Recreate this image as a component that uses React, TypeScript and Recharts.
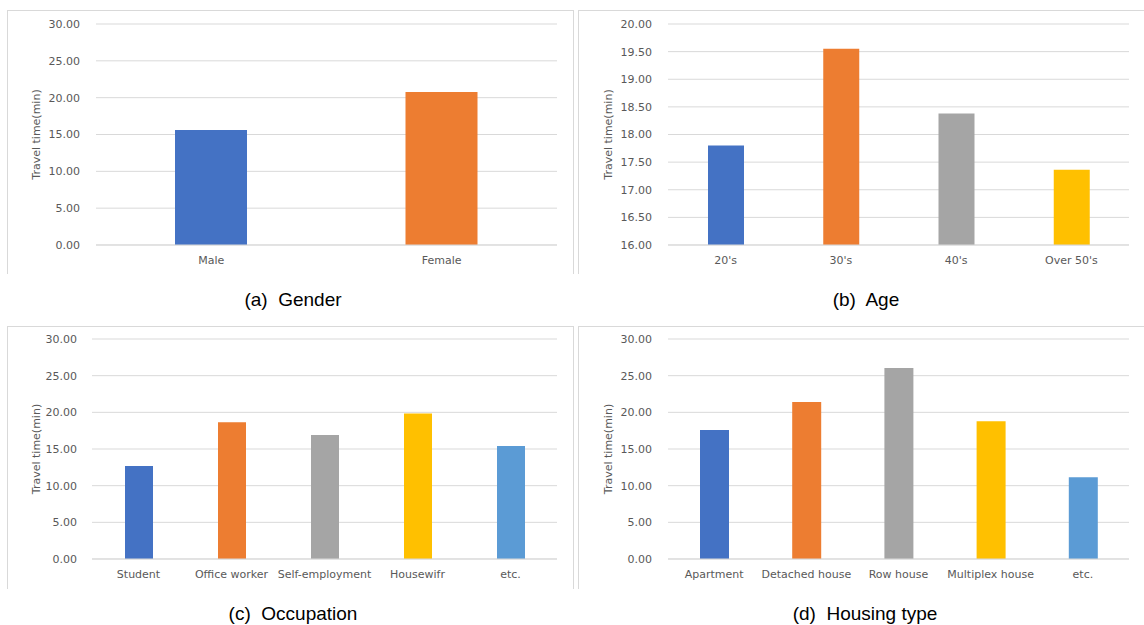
import { BarChart, Bar, XAxis, YAxis, CartesianGrid, Cell } from 'recharts';

const genderCategories = ['Male', 'Female'];
const genderValues = [15.62, 20.76];

const ageCategories = ["20's", "30's", "40's", "Over 50's"];
const ageValues = [17.8, 19.55, 18.38, 17.36];

const occupationCategories = ['Student', 'Office worker', 'Self-employment', 'Housewifr', 'etc.'];
const occupationValues = [12.68, 18.65, 16.9, 19.85, 15.4];

const housingCategories = ['Apartment', 'Detached house', 'Row house', 'Multiplex house', 'etc.'];
const housingValues = [17.6, 21.4, 26.05, 18.8, 11.15];

const ticks30 = [0, 5, 10, 15, 20, 25, 30];
const ticksAge = [16, 16.5, 17, 17.5, 18, 18.5, 19, 19.5, 20];

const palette = ['#4472C4', '#ED7D31', '#A5A5A5', '#FFC000', '#5B9BD5'];

const AXIS_FONT = '"DejaVu Sans", sans-serif';
const TEXT_GRAY = '#595959';
const GRID = '#d9d9d9';

interface PanelProps {
  categories: string[];
  values: number[];
  domain: [number, number];
  ticks: number[];
  left: number;
  top: number;
  width: number;
  height: number;
  marginTop: number;
  marginRight: number;
  yAxisWidth: number;
  xAxisHeight: number;
  barSize: number;
  yTickMargin: number;
  titleX: number;
  rightBorder: boolean;
}

function Panel(p: PanelProps) {
  const data = p.categories.map((name, i) => ({ name, value: p.values[i] }));
  return (
    <div
      style={{
        position: 'absolute',
        left: p.left,
        top: p.top,
        width: p.width,
        height: p.height,
        boxSizing: 'border-box',
        borderLeft: `1px solid ${GRID}`,
        borderTop: `1px solid ${GRID}`,
        borderRight: p.rightBorder ? `1px solid ${GRID}` : 'none',
      }}
    >
      <div style={{ position: 'absolute', left: -1, top: -1 }}>
        <BarChart
          width={p.width}
          height={p.height}
          data={data}
          margin={{ top: p.marginTop, right: p.marginRight, bottom: 0, left: 0 }}
        >
          <CartesianGrid vertical={false} stroke={GRID} />
          <XAxis
            dataKey="name"
            interval={0}
            height={p.xAxisHeight}
            axisLine={{ stroke: GRID }}
            tickLine={false}
            tickSize={0}
            tickMargin={11}
            tick={{ fill: TEXT_GRAY, fontSize: 11, fontFamily: AXIS_FONT }}
          />
          <YAxis
            width={p.yAxisWidth}
            domain={p.domain}
            ticks={p.ticks}
            allowDataOverflow
            axisLine={false}
            tickLine={false}
            tickSize={0}
            tickMargin={p.yTickMargin}
            tickFormatter={(v: number) => v.toFixed(2)}
            tick={{ fill: TEXT_GRAY, fontSize: 11, fontFamily: AXIS_FONT }}
            label={{
              content: (lp: any) => {
                const vb = lp.viewBox || { x: 0, y: 0, height: 0 };
                const cx = vb.x + p.titleX;
                const cy = vb.y + vb.height / 2;
                return (
                  <text
                    x={cx}
                    y={cy}
                    transform={`rotate(-90, ${cx}, ${cy})`}
                    textAnchor="middle"
                    dominantBaseline="central"
                    fill={TEXT_GRAY}
                    fontSize={11}
                    fontFamily={AXIS_FONT}
                  >
                    Travel time(min)
                  </text>
                );
              },
            }}
          />
          <Bar dataKey="value" barSize={p.barSize} isAnimationActive={false}>
            {data.map((d, i) => (
              <Cell key={d.name} fill={palette[i % palette.length]} />
            ))}
          </Bar>
        </BarChart>
      </div>
    </div>
  );
}

function Caption({ text, cx, top }: { text: string; cx: number; top: number }) {
  return (
    <div
      style={{
        position: 'absolute',
        left: cx - 150,
        top,
        width: 300,
        textAlign: 'center',
        fontFamily: '"Liberation Sans", Arial, sans-serif',
        fontSize: 19,
        lineHeight: '22px',
        color: '#000',
        whiteSpace: 'pre',
      }}
    >
      {text}
    </div>
  );
}

export default function App() {
  return (
    <div
      style={{
        position: 'absolute',
        left: 0,
        top: 0,
        width: 1144,
        height: 625,
        background: '#fff',
        overflow: 'hidden',
      }}
    >
      <Panel
        categories={genderCategories}
        values={genderValues}
        domain={[0, 30]}
        ticks={ticks30}
        left={7}
        top={10}
        width={567}
        height={264}
        marginTop={14}
        marginRight={17}
        yAxisWidth={89}
        xAxisHeight={29}
        barSize={72}
        yTickMargin={16}
        titleX={29}
        rightBorder
      />
      <Panel
        categories={ageCategories}
        values={ageValues}
        domain={[16, 20]}
        ticks={ticksAge}
        left={578}
        top={10}
        width={570}
        height={264}
        marginTop={14}
        marginRight={19}
        yAxisWidth={90}
        xAxisHeight={29}
        barSize={36}
        yTickMargin={16}
        titleX={30}
        rightBorder={false}
      />
      <Panel
        categories={occupationCategories}
        values={occupationValues}
        domain={[0, 30]}
        ticks={ticks30}
        left={7}
        top={326}
        width={567}
        height={263}
        marginTop={13}
        marginRight={17}
        yAxisWidth={85}
        xAxisHeight={30}
        barSize={28}
        yTickMargin={15}
        titleX={29}
        rightBorder
      />
      <Panel
        categories={housingCategories}
        values={housingValues}
        domain={[0, 30]}
        ticks={ticks30}
        left={578}
        top={326}
        width={570}
        height={263}
        marginTop={13}
        marginRight={19}
        yAxisWidth={90}
        xAxisHeight={30}
        barSize={29}
        yTickMargin={16}
        titleX={30}
        rightBorder={false}
      />
      <Caption text="(a)  Gender" cx={293} top={289} />
      <Caption text="(b)  Age" cx={866} top={289} />
      <Caption text="(c)  Occupation" cx={293} top={603} />
      <Caption text="(d)  Housing type" cx={865} top={603} />
    </div>
  );
}
